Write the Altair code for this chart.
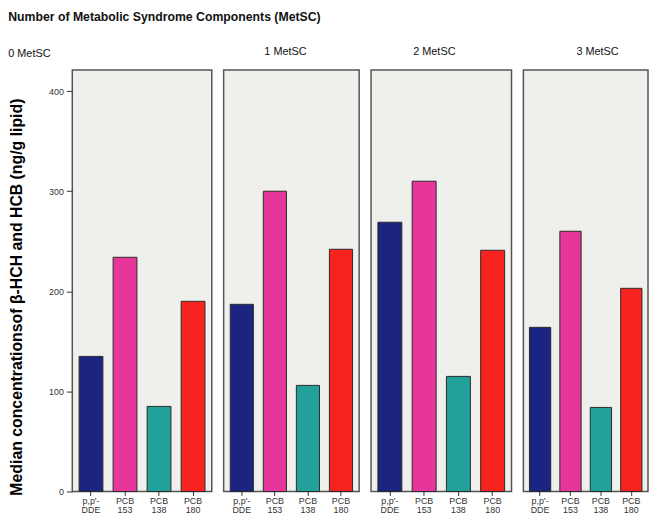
import altair as alt
import pandas as pd

groups = ["0 MetSC", "1 MetSC", "2 MetSC", "3 MetSC"]
compounds = ["p,p'-DDE", "PCB 153", "PCB 138", "PCB 180"]
colors = ["#1b2480", "#e6369b", "#22a09b", "#f6231f"]
values = {
    "0 MetSC": [135, 234, 85, 190],
    "1 MetSC": [187, 300, 106, 242],
    "2 MetSC": [269, 310, 115, 241],
    "3 MetSC": [164, 260, 84, 203],
}
y_ticks = [0, 100, 200, 300, 400]

widths = [141, 137, 142, 126]
title_dx = [0, -6, -7, 12]

FONT = "Liberation Sans"
H = 426

panels = []
for i, g in enumerate(groups):
    df = pd.DataFrame({"compound": compounds, "value": values[g]})
    if i == 0:
        yaxis = alt.Axis(
            values=y_ticks, grid=False, domain=False, tickSize=6,
            tickColor="#333", labelColor="#333", labelFontSize=9,
            labelPadding=3, labelFont=FONT,
            title="Median concentrationsof β-HCH and HCB (ng/g lipid)",
            titleFont=FONT, titleFontSize=16, titleFontWeight="bold",
            titleColor="#000", titlePadding=24, titleY=H / 2 + 16,
        )
    else:
        yaxis = None
    c = (
        alt.Chart(df)
        .mark_bar(stroke="#2a2a2a", strokeWidth=1)
        .encode(
            x=alt.X(
                "compound:N", sort=compounds,
                scale=alt.Scale(paddingInner=0.3, paddingOuter=0.2),
                axis=alt.Axis(
                    title=None, labelAngle=0, domain=False, grid=False,
                    tickSize=4, tickColor="#333", labelColor="#333",
                    labelFontSize=9, labelFont=FONT, labelLineHeight=9,
                    labelPadding=1,
                    labelExpr="split(replace(datum.label, \"'-\", \"'- \"), ' ')",
                ),
            ),
            y=alt.Y(
                "value:Q",
                scale=alt.Scale(domain=[0, 421], nice=False),
                axis=yaxis,
            ),
            color=alt.Color(
                "compound:N",
                scale=alt.Scale(domain=compounds, range=colors),
                legend=None,
            ),
        )
        .properties(
            width=widths[i], height=H,
            title=alt.TitleParams(
                " " if i == 0 else g, fontSize=11, fontWeight="normal",
                font=FONT, color="#111", offset=13, anchor="middle",
                dx=title_dx[i],
            ),
        )
    )
    panels.append(c)

chart = (
    alt.hconcat(*panels, spacing=10)
    .properties(
        title=alt.TitleParams(
            "Number of Metabolic Syndrome Components (MetSC)",
            subtitle="0 MetSC",
            anchor="start", fontSize=12.4, fontWeight="bold", font=FONT,
            color="#111", subtitleFont=FONT, subtitleFontSize=11,
            subtitleColor="#111", subtitlePadding=25, offset=-14,
        ),
        padding={"left": 0, "top": 0, "right": 0, "bottom": 0},
        background="#ffffff",
    )
    .configure_view(fill="#efefeb", stroke="#555555", strokeWidth=1.5)
)

chart.save("out.html", embed_options={"renderer": "svg", "actions": False})
